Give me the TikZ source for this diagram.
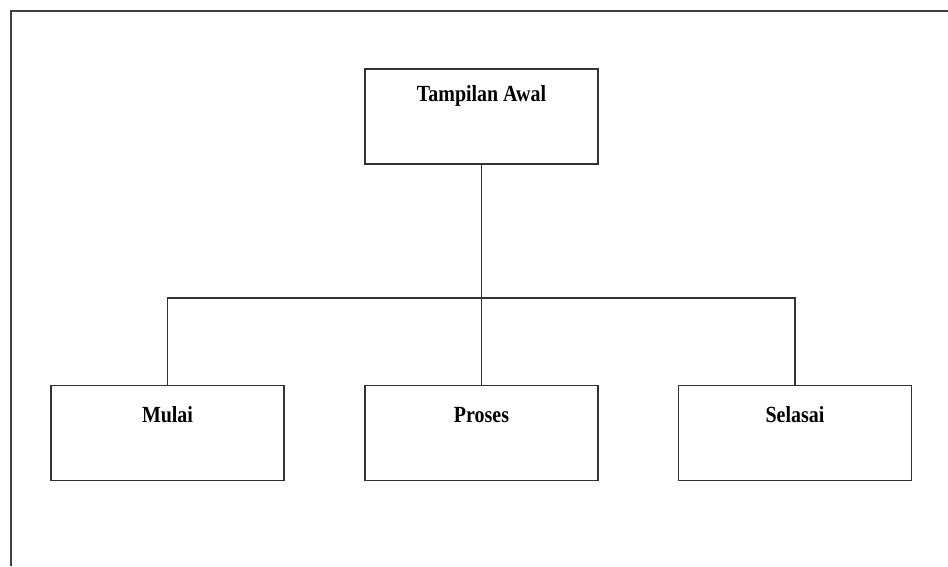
\documentclass[tikz,border=0pt]{standalone}
\usepackage{fontspec}
\setmainfont{Liberation Serif}
\begin{document}
\begin{tikzpicture}[x=1pt,y=1pt,
  box/.style={draw=black!80,line width=1.8pt,minimum width=233pt,minimum height=95pt,inner sep=0pt},
  lbl/.style={anchor=base,font=\bfseries\fontsize{21}{24}\selectfont,inner sep=0pt,yscale=1.1,xscale=0.95},
  conn/.style={draw=black!80,line width=1.6pt}]
\useasboundingbox (0,0) rectangle (948,-566);
\draw[draw=black!75,line width=2.2pt] (11,-566) -- (11,-11) -- (948,-11);
\node[box] (top) at (481.5,-116.5) {};
\node[box] (mulai) at (167.5,-433) {};
\node[box] (proses) at (481.5,-433) {};
\node[box] (selesai) at (795,-433) {};
\node[lbl] (ttop) at ([yshift=-33pt]top.north) {Tampilan Awal};
\node[lbl] (tmulai) at ([yshift=-38pt]mulai.north) {Mulai};
\node[lbl] (tproses) at ([yshift=-38pt]proses.north) {Proses};
\node[lbl] (tselesai) at ([yshift=-38pt]selesai.north) {Selasai};
\coordinate (bus) at (481.5,-298);
\draw[conn] (top.south) -- (bus);
\draw[conn] (mulai.north) |- (bus) -| (selesai.north);
\draw[conn] (bus) -- (proses.north);
\end{tikzpicture}
\end{document}
